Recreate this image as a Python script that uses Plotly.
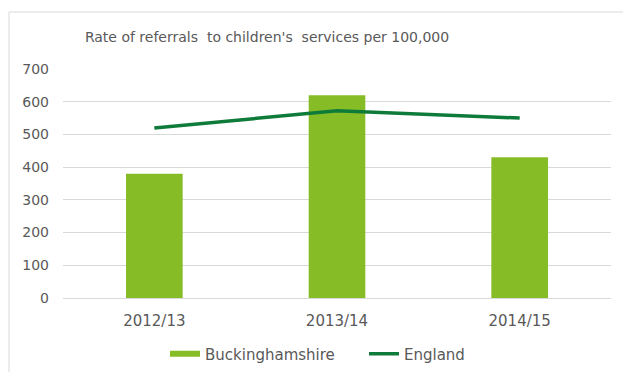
import plotly.graph_objects as go

# Referral rates per 100,000 children
years = ["2012/13", "2013/14", "2014/15"]
buckinghamshire = [380, 620, 430]
england = [520, 572, 550]
y_ticks = [0, 100, 200, 300, 400, 500, 600, 700]

BAR_GREEN = "#86BC25"
LINE_GREEN = "#0F7B3A"
TEXT_GREY = "#595959"
GRID_GREY = "#D9D9D9"
FONT = "DejaVu Sans, Verdana, sans-serif"

W, H = 623, 372

fig = go.Figure()

fig.add_trace(go.Bar(
    x=years, y=buckinghamshire, name="Buckinghamshire",
    marker=dict(color=BAR_GREEN, line=dict(width=0)),
    showlegend=False,
))
fig.add_trace(go.Scatter(
    x=years, y=england, name="England", mode="lines",
    line=dict(color=LINE_GREEN, width=3.5),
    showlegend=False,
))
# legend keys drawn as short strokes
fig.add_trace(go.Scatter(
    x=[None], y=[None], name="Buckinghamshire", mode="lines",
    line=dict(color=BAR_GREEN, width=6),
))
fig.add_trace(go.Scatter(
    x=[None], y=[None], name="England", mode="lines",
    line=dict(color=LINE_GREEN, width=3.5),
))

fig.update_layout(
    width=W, height=H,
    margin=dict(l=63, r=12, t=69, b=74, autoexpand=False),
    paper_bgcolor="white", plot_bgcolor="white",
    font=dict(family=FONT, size=14, color=TEXT_GREY),
    bargap=0.69,
    title=dict(
        text="Rate of referrals  to children's  services per 100,000",
        font=dict(family=FONT, size=14, color=TEXT_GREY),
        x=267 / W, xanchor="center", xref="container",
        y=1 - 37 / H, yanchor="middle", yref="container",
    ),
    legend=dict(
        orientation="h", x=165 / W, xanchor="left", xref="container",
        y=1 - 354 / H, yanchor="middle", yref="container",
        font=dict(family=FONT, size=15, color=TEXT_GREY),
        itemwidth=30, tracegroupgap=0, entrywidth=154,
    ),
    xaxis=dict(
        showgrid=False, showline=False, zeroline=False, automargin=False,
        ticks="", tickfont=dict(size=15, color=TEXT_GREY),
        ticklabelstandoff=12,
    ),
    yaxis=dict(
        range=[0, 700], tickvals=y_ticks, automargin=False,
        showgrid=True, gridcolor=GRID_GREY, gridwidth=1,
        zeroline=True, zerolinecolor=GRID_GREY, zerolinewidth=1,
        showline=False, ticks="",
        tickfont=dict(size=14, color=TEXT_GREY),
        ticklabelstandoff=13,
    ),
    shapes=[dict(
        type="rect", xref="paper", yref="paper",
        x0=(9 - 63) / (W - 75), x1=(W + 5 - 63) / (W - 75),
        y0=-(H + 5 - 298) / (298 - 69), y1=(298 - 12) / (298 - 69),
        line=dict(color="#D9D9D9", width=1), fillcolor="rgba(0,0,0,0)",
        layer="below",
    )],
)

fig.write_html("out.html")
